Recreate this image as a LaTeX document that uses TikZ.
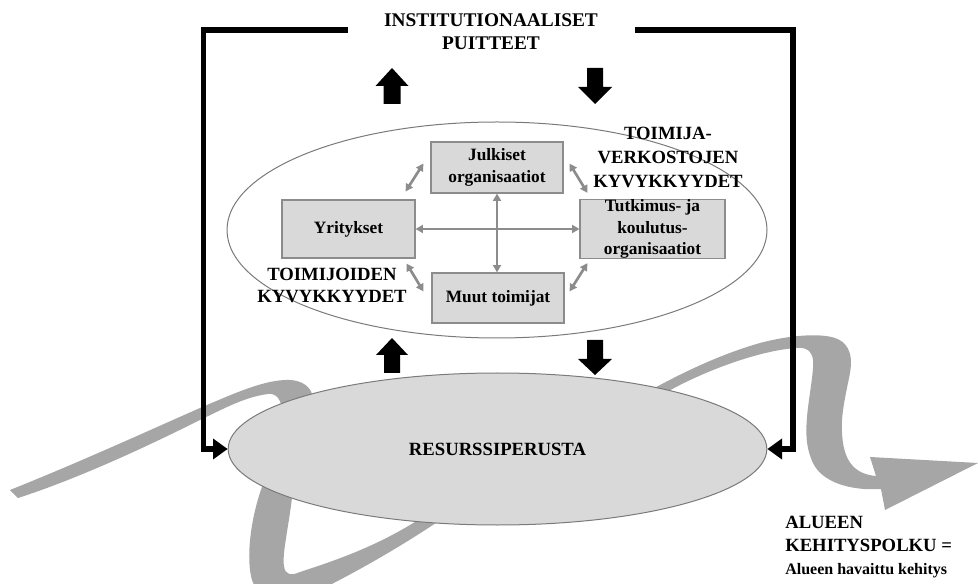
\documentclass[tikz,border=0pt]{standalone}
\usepackage{fontspec}
\setmainfont{Liberation Serif}
\usetikzlibrary{arrows.meta,shapes.geometric,calc}
\definecolor{ribbon}{HTML}{A6A6A6}
\definecolor{boxfill}{HTML}{D9D9D9}
\definecolor{boxline}{HTML}{8C8C8C}
\definecolor{linkgray}{HTML}{8C8C8C}
\definecolor{rimgray}{HTML}{7A7A7A}
\begin{document}
\begin{tikzpicture}[x=0.75pt,y=-0.75pt,
  actor/.style={draw=boxline, fill=boxfill, line width=0.9pt, inner sep=0pt,
    align=center, font=\bfseries\fontsize{13}{16.25}\selectfont},
  caption/.style={align=center, inner sep=0pt,
    font=\bfseries\fontsize{14}{18}\selectfont},
  link/.style={draw=linkgray, line width=2pt,
    {Triangle[length=5.5pt,width=6pt]}-{Triangle[length=5.5pt,width=6pt]}},
  frame/.style={line width=4.2pt, line join=miter,
    -{Triangle[length=11pt,width=15pt]}},
  blockarrow/.style={fill=black}]
\useasboundingbox (0,0) rectangle (978,584);
\clip (0,0) rectangle (978,584);

% development path ribbon: tail, hook and loop on the left
\fill[ribbon] (10,490)
  .. controls (80,462) and (150,430) .. (200,408)
  .. controls (235,393) and (262,381) .. (285,380)
  .. controls (303,379) and (313,388) .. (313,400)
  .. controls (313,430) and (296,465) .. (292,498)
  .. controls (288,530) and (282,555) .. (284,566)
  .. controls (285,575) and (291,576) .. (300,572)
  .. controls (340,559) and (390,542) .. (440,505)
  -- (462,505)
  .. controls (420,535) and (370,565) .. (320,590)
  .. controls (290,600) and (258,600) .. (252,580)
  .. controls (246,560) and (250,520) .. (262,487)
  .. controls (270,460) and (283,425) .. (282,410)
  .. controls (281,400) and (277,393) .. (268,394)
  .. controls (245,397) and (225,408) .. (200,420)
  .. controls (150,445) and (80,478) .. (18,498)
  -- cycle;
% development path ribbon: hook and arrowhead on the right
\fill[ribbon] (600,420)
  .. controls (640,395) and (700,360) .. (760,343)
  .. controls (790,335) and (820,333) .. (835,338)
  .. controls (852,344) and (853,360) .. (849,378)
  .. controls (845,398) and (841,415) .. (842,432)
  .. controls (843,458) and (852,474) .. (876,476)
  -- (870,457) -- (978,463) -- (885,510) -- (881,489)
  .. controls (850,491) and (822,482) .. (813,463)
  .. controls (805,446) and (806,430) .. (807,417)
  .. controls (809,395) and (814,372) .. (813,360)
  .. controls (812,351) and (806,347) .. (797,348)
  .. controls (760,350) and (700,372) .. (660,396)
  -- (630,430) -- cycle;

% resource base
\node[draw=rimgray, fill=boxfill, line width=0.75pt, ellipse, inner sep=0pt,
  minimum width=404pt, minimum height=114pt,
  font=\bfseries\fontsize{14}{18}\selectfont] (res) at (497.5,449) {RESURSSIPERUSTA};

% actor network
\node[draw=rimgray, line width=0.75pt, ellipse, inner sep=0pt,
  minimum width=405pt, minimum height=162pt] (net) at (497,230) {};

% institutional frame
\node[caption, font=\bfseries\fontsize{14.5}{17.25}\selectfont] (title) at (491,31.5)
  {INSTITUTIONAALISET\\PUITTEET};
\coordinate (fl) at (348,30);
\coordinate (fr) at (635,30);
\draw[frame] (fl) -- ++(-144.5,0) |- (res.west);
\draw[frame] (fr) -- ++(158,0) |- (res.east);

% block arrows between levels
\fill[blockarrow] (392,68) -- (408.5,86) -- (400.5,86) -- (400.5,104)
  -- (383.5,104) -- (383.5,86) -- (375.5,86) -- cycle;
\fill[blockarrow] (595,104) -- (612,87) -- (603,87) -- (603,68)
  -- (587,68) -- (587,87) -- (578,87) -- cycle;
\fill[blockarrow] (392,338) -- (408,355) -- (400,355) -- (400,373)
  -- (384,373) -- (384,355) -- (376,355) -- cycle;
\fill[blockarrow] (595,375) -- (612,359) -- (603,359) -- (603,340)
  -- (587,340) -- (587,359) -- (578,359) -- cycle;

% actors
\node[actor, minimum width=99pt, minimum height=38.25pt] (jul) at (497,167.5)
  {Julkiset\\organisaatiot};
\node[actor, minimum width=99.75pt, minimum height=43.5pt] (yri) at (348.5,229)
  {Yritykset};
\node[actor, minimum width=108.75pt, minimum height=43.5pt] (tut) at (652.5,229)
  {Tutkimus- ja\\koulutus-\\organisaatiot};
\node[actor, minimum width=99pt, minimum height=37.5pt] (muu) at (498,298)
  {Muut toimijat};

% links between actors
\draw[link] (yri.east) -- (tut.west);
\draw[link] (jul.south) -- (jul.south |- muu.north);
\draw[link] ([shift={(-10,-8)}]yri.north east) -- ([shift={(-7,-30)}]jul.south west);
\draw[link] ([shift={(6,-30)}]jul.south east) -- ([shift={(8,-6)}]tut.north west);
\draw[link] ([shift={(-9,5)}]yri.south east) -- ([shift={(-8,19)}]muu.north west);
\draw[link] ([shift={(5,19)}]muu.north east) -- ([shift={(8,4)}]tut.south west);

% capability labels
\node[caption] (netcap) at (668,157) {TOIMIJA-\\VERKOSTOJEN\\KYVYKKYYDET};
\node[caption, font=\bfseries\fontsize{14}{16.5}\selectfont] (actcap) at (332,285)
  {TOIMIJOIDEN\\KYVYKKYYDET};

% path legend
\node[anchor=west, align=left, inner sep=0pt,
  font=\bfseries\fontsize{14}{17}\selectfont] (legend) at (785,547)
  {ALUEEN\\KEHITYSPOLKU =\\{\fontsize{12}{17}\selectfont Alueen havaittu kehitys}};
\end{tikzpicture}
\end{document}
